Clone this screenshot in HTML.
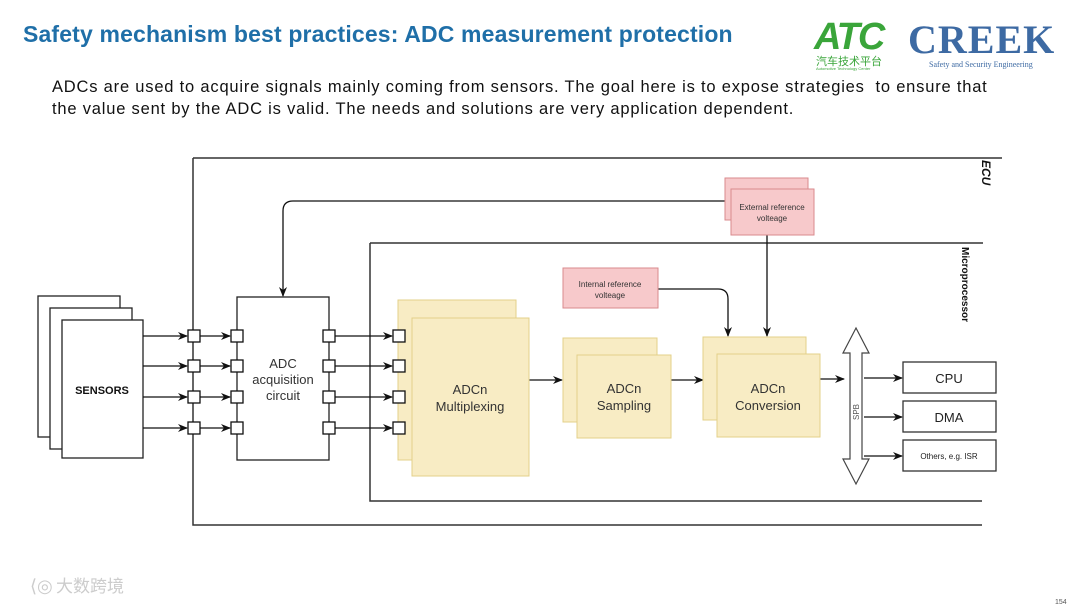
<!DOCTYPE html>
<html><head><meta charset="utf-8"><style>
body{margin:0;width:1080px;height:608px;background:#fff;position:relative;overflow:hidden;font-family:"Liberation Sans",sans-serif}
.t{position:absolute;white-space:nowrap}
</style></head><body>
<div class="t" style="left:23px;top:21px;font-size:23px;font-weight:bold;color:#1f6fa8;letter-spacing:0.15px">Safety mechanism best practices: ADC measurement protection</div>
<div class="t" style="left:814px;top:16px;font-size:38px;font-weight:bold;font-style:italic;color:#3aa53a;letter-spacing:-2px">ATC</div>
<div class="t" style="left:816px;top:53px;font-size:11px;color:#3aa53a;font-family:'Noto Sans CJK SC',sans-serif">汽车技术平台</div>
<div class="t" style="left:816px;top:66px;font-size:4px;color:#3aa53a">Automotive Technology Center</div>
<div class="t" style="left:908px;top:16px;font-size:40px;font-weight:bold;color:#3d6aa3;font-family:'Liberation Serif',serif;letter-spacing:1px">CREEK</div>
<div class="t" style="left:929px;top:60px;font-size:8px;color:#3d6aa3;font-family:'Liberation Serif',serif">Safety and Security Engineering</div>
<div class="t" style="left:52px;top:76px;font-size:16.5px;color:#111;line-height:22px;letter-spacing:0.8px">ADCs are used to acquire signals mainly coming from sensors. The goal here is to expose strategies&nbsp; to ensure that<br>the value sent by the ADC is valid. The needs and solutions are very application dependent.</div>
<svg width="1080" height="608" style="position:absolute;left:0;top:0" font-family="Liberation Sans, sans-serif">
<defs><marker id="a" markerWidth="10" markerHeight="8" refX="9" refY="4" orient="auto" markerUnits="userSpaceOnUse"><path d="M0,0 L10,4 L0,8 L3,4z" fill="#111"/></marker></defs>
<g stroke="#333" stroke-width="1.5" fill="none">
<path d="M193,158 H1002 M193,158 V525 H982"/>
<path d="M370,243 H983 M370,243 V501 H982"/>
</g>
<text transform="translate(982,160) rotate(90)" font-size="12" font-weight="bold" font-style="italic" fill="#111">ECU</text>
<text transform="translate(962,247) rotate(90)" font-size="10" font-weight="bold" fill="#111">Microprocessor</text>
<g stroke="#222" stroke-width="1.3" fill="#fff">
<rect x="38" y="296" width="82" height="141"/><rect x="50" y="308" width="82" height="141"/><rect x="62" y="320" width="81" height="138"/>
<rect x="237" y="297" width="92" height="163"/>
</g>
<text x="102" y="394" font-size="11" font-weight="bold" text-anchor="middle" fill="#111">SENSORS</text>
<text x="283" y="368" font-size="13" text-anchor="middle" fill="#333">ADC</text>
<text x="283" y="384" font-size="13" text-anchor="middle" fill="#333">acquisition</text>
<text x="283" y="400" font-size="13" text-anchor="middle" fill="#333">circuit</text>
<g stroke="#111" stroke-width="1.3" fill="none" marker-end="url(#a)">
<path d="M143,336 H187"/><path d="M200,336 H230"/><path d="M335,336 H392"/>
<path d="M143,366 H187"/><path d="M200,366 H230"/><path d="M335,366 H392"/>
<path d="M143,397 H187"/><path d="M200,397 H230"/><path d="M335,397 H392"/>
<path d="M143,428 H187"/><path d="M200,428 H230"/><path d="M335,428 H392"/>
<path d="M725,201 H293 Q283,201 283,211 V296"/>
<path d="M529,380 H562"/><path d="M671,380 H703"/><path d="M820,379 H844"/>
<path d="M658,289 H718 Q728,289 728,299 V336"/>
<path d="M767,235 V336"/>
<path d="M864,378 H902"/><path d="M864,417 H902"/><path d="M864,456 H902"/>
</g>
<g fill="#f8ecc4" stroke="#e3d08a" stroke-width="1">
<rect x="398" y="300" width="118" height="160"/><rect x="412" y="318" width="117" height="158"/>
<rect x="563" y="338" width="94" height="84"/><rect x="577" y="355" width="94" height="83"/>
<rect x="703" y="337" width="103" height="83"/><rect x="717" y="354" width="103" height="83"/>
</g>
<g stroke="#111" stroke-width="1.3" fill="#fff">
<rect x="188" y="330" width="12" height="12"/><rect x="231" y="330" width="12" height="12"/><rect x="323" y="330" width="12" height="12"/><rect x="393" y="330" width="12" height="12"/>
<rect x="188" y="360" width="12" height="12"/><rect x="231" y="360" width="12" height="12"/><rect x="323" y="360" width="12" height="12"/><rect x="393" y="360" width="12" height="12"/>
<rect x="188" y="391" width="12" height="12"/><rect x="231" y="391" width="12" height="12"/><rect x="323" y="391" width="12" height="12"/><rect x="393" y="391" width="12" height="12"/>
<rect x="188" y="422" width="12" height="12"/><rect x="231" y="422" width="12" height="12"/><rect x="323" y="422" width="12" height="12"/><rect x="393" y="422" width="12" height="12"/>
</g>
<g font-size="13" text-anchor="middle" fill="#333">
<text x="470" y="394">ADCn</text><text x="470" y="411">Multiplexing</text>
<text x="624" y="393">ADCn</text><text x="624" y="410">Sampling</text>
<text x="768" y="393">ADCn</text><text x="768" y="410">Conversion</text>
</g>
<g fill="#f7c9cb" stroke="#d98a8e" stroke-width="1">
<rect x="563" y="268" width="95" height="40"/>
<rect x="725" y="178" width="83" height="42"/><rect x="731" y="189" width="83" height="46"/>
</g>
<g font-size="8" text-anchor="middle" fill="#333">
<text x="610" y="287">Internal reference</text><text x="610" y="298">volteage</text>
<text x="772" y="210">External reference</text><text x="772" y="221">volteage</text>
</g>
<path d="M856,328 L869,353 H862 V459 H869 L856,484 L843,459 H850 V353 H843 Z" fill="#fff" stroke="#444" stroke-width="1.2"/>
<text transform="translate(859,420) rotate(-90)" font-size="8" fill="#555">SPB</text>
<g stroke="#333" stroke-width="1.3" fill="#fff">
<rect x="903" y="362" width="93" height="31"/><rect x="903" y="401" width="93" height="31"/><rect x="903" y="440" width="93" height="31"/>
</g>
<g text-anchor="middle" fill="#222">
<text x="949" y="383" font-size="13">CPU</text><text x="949" y="422" font-size="13">DMA</text><text x="949" y="459" font-size="8">Others, e.g. ISR</text>
</g>
<text x="30" y="592" font-size="18" fill="#ccc">⟨◎</text>
<text x="56" y="592" font-size="17" fill="#ccc" font-family="Noto Sans CJK SC, sans-serif">大数跨境</text>
<text x="1055" y="604" font-size="7" fill="#555">154</text>
</svg>
</body></html>
